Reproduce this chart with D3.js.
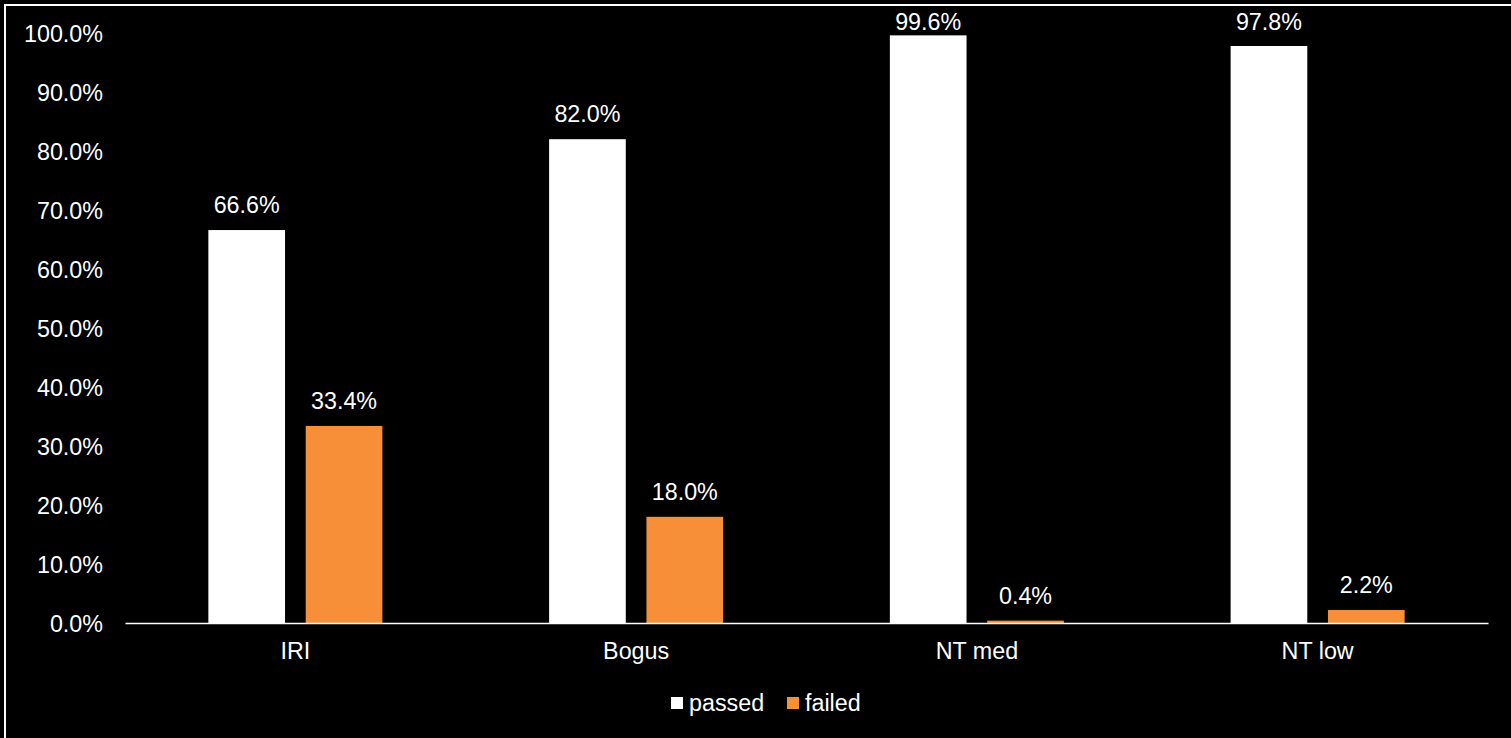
<!DOCTYPE html>
<html>
<head>
<meta charset="utf-8">
<script src="https://cdn.jsdelivr.net/npm/d3@7"></script>
<style>
  html, body { margin: 0; padding: 0; background: #000; overflow: hidden; }
  svg { display: block; }
  text { font-family: "Liberation Sans", Arial, sans-serif; fill: #fff; }
</style>
</head>
<body>
<svg id="chart" width="1511" height="738"></svg>
<script>
// Share of checks per method
const categories = ["IRI", "Bogus", "NT med", "NT low"];
const seriesNames = ["passed", "failed"];
const passed = [66.6, 82.0, 99.6, 97.8];
const failed = [33.4, 18.0, 0.4, 2.2];
const yTicks = [0, 10, 20, 30, 40, 50, 60, 70, 80, 90, 100];
const colors = ["#ffffff", "#f68f38"];

const W = 1511, H = 738;
const svg = d3.select("#chart");
const fontSize = "23.3px";

svg.append("rect").attr("width", W).attr("height", H).attr("fill", "#000");
// outer frame
svg.append("rect")
  .attr("x", 5).attr("y", 5).attr("width", W + 20).attr("height", H + 20)
  .attr("fill", "none").attr("stroke", "#fff").attr("stroke-width", 2);

const plot = { left: 125, right: 1488, top: 33, bottom: 623 };
const labelMinBaseline = 30; // keep value labels inside the frame

const x0 = d3.scaleBand().domain(categories).range([plot.left, plot.right]).paddingInner(0).paddingOuter(0);
const barW = x0.bandwidth() * 0.225;
const gap = x0.bandwidth() * 0.0607;
const y = d3.scaleLinear().domain([0, 100]).range([plot.bottom, plot.top]);

const rows = categories.map((c, i) => ({ cat: c, vals: [passed[i], failed[i]] }));

// y tick labels
const yAxis = d3.axisLeft(y).tickValues(yTicks).tickFormat(d => d.toFixed(1) + "%").tickSize(0).tickPadding(0);
const yg = svg.append("g").attr("transform", `translate(103,0)`).call(yAxis);
yg.select(".domain").remove();
yg.selectAll("text").attr("font-size", fontSize).attr("fill", "#fff")
  .attr("font-family", "'Liberation Sans', Arial, sans-serif").attr("dy", "0.35em");

// bars
const groups = svg.selectAll("g.cat").data(rows).join("g").attr("class", "cat");
groups.each(function (row) {
  const g = d3.select(this);
  const center = x0(row.cat) + x0.bandwidth() / 2;
  row.vals.forEach((v, k) => {
    const bx = k === 0 ? center - gap / 2 - barW : center + gap / 2;
    g.append("rect")
      .attr("x", bx).attr("y", y(v)).attr("width", barW).attr("height", y(0) - y(v))
      .attr("fill", colors[k]);
    g.append("text")
      .attr("x", bx + barW / 2).attr("y", Math.max(y(v) - 17, labelMinBaseline))
      .attr("text-anchor", "middle").attr("font-size", fontSize)
      .text(v.toFixed(1) + "%");
  });
});

// x axis
const xAxis = d3.axisBottom(x0).tickSize(0).tickPadding(0);
const xg = svg.append("g").attr("transform", `translate(0,${plot.bottom})`).call(xAxis);
xg.select(".domain").attr("stroke", "#fff").attr("stroke-width", 1.6);
xg.selectAll("text").attr("font-size", fontSize).attr("fill", "#fff")
  .attr("font-family", "'Liberation Sans', Arial, sans-serif").attr("dy", 0).attr("y", 36);

// legend
const legendItems = [{ name: seriesNames[0], x: 671 }, { name: seriesNames[1], x: 787 }];
const lg = svg.selectAll("g.legend").data(legendItems).join("g").attr("class", "legend");
lg.append("rect").attr("x", d => d.x).attr("y", 697).attr("width", 12).attr("height", 12)
  .attr("fill", (d, i) => colors[i]);
lg.append("text").attr("x", d => d.x + 18).attr("y", 711).attr("font-size", fontSize)
  .text(d => d.name);
</script>
</body>
</html>
